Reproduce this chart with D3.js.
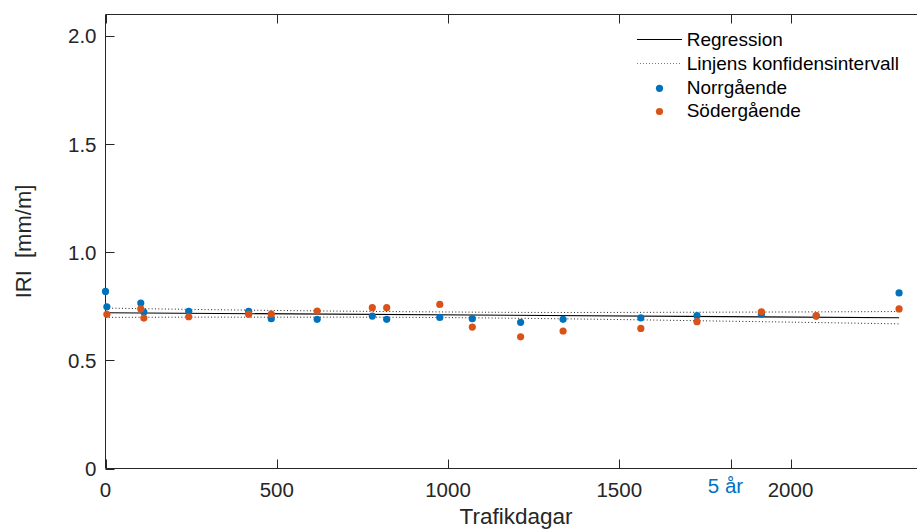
<!DOCTYPE html>
<html>
<head>
<meta charset="utf-8">
<script src="https://cdn.jsdelivr.net/npm/d3@7"></script>
<style>
  body { margin: 0; background: #fff; }
  svg { display: block; font-family: "Liberation Sans", Arial, Helvetica, sans-serif; }
</style>
</head>
<body>
<svg id="chart" width="917" height="529"></svg>
<script>
// IRI measurements per traffic day, northbound and southbound lanes
const northDays = [0, 4, 103, 112, 243, 418, 484, 618, 779, 821, 976, 1071, 1212, 1336, 1563, 1727, 1915, 2075, 2317];
const northIRI  = [0.819, 0.748, 0.765, 0.724, 0.727, 0.727, 0.693, 0.690, 0.705, 0.690, 0.699, 0.693, 0.676, 0.690, 0.697, 0.707, 0.714, 0.705, 0.812];

const southDays = [4, 103, 112, 243, 418, 484, 618, 779, 821, 976, 1071, 1212, 1336, 1563, 1727, 1915, 2075, 2317];
const southIRI  = [0.713, 0.738, 0.696, 0.702, 0.714, 0.714, 0.728, 0.744, 0.744, 0.759, 0.654, 0.609, 0.636, 0.648, 0.679, 0.725, 0.707, 0.738];

// Regression line end points
const regDays = [0, 2317];
const regIRI  = [0.7205, 0.6975];

// Confidence band of the regression line
const ciDays  = [0, 250, 500, 750, 1000, 1250, 1500, 1750, 2000, 2317];
const ciUpper = [0.742, 0.736, 0.731, 0.727, 0.724, 0.722, 0.722, 0.723, 0.724, 0.726];
const ciLower = [0.699, 0.700, 0.700, 0.700, 0.698, 0.694, 0.689, 0.683, 0.677, 0.669];

// Axis ticks
const xTicks = [0, 500, 1000, 1500, 2000];
const yTicks = [0, 0.5, 1.0, 1.5, 2.0];
const yTickLabels = ["0", "0.5", "1.0", "1.5", "2.0"];
const fiveYears = 5 * 365.25;
const fiveYearsLabel = "5 år";

const legendLabels = ["Regression", "Linjens konfidensintervall", "Norrgående", "Södergående"];

const blue = "#0072BD", orange = "#D95319", axisColor = "#262626";

const svg = d3.select("#chart");
const x = d3.scaleLinear().domain([0, 2400]).range([105.5, 927.5]);
const y = d3.scaleLinear().domain([0, 2.1]).range([468.5, 14.5]);

const tickLen = 9;
const frame = svg.append("g").attr("stroke", axisColor).attr("stroke-width", 1).attr("fill", "none");
// box: left, bottom, top
frame.append("line").attr("x1", x(0)).attr("x2", x(0)).attr("y1", y(0)).attr("y2", y(2.1));
frame.append("line").attr("x1", x(0)).attr("x2", x(2400)).attr("y1", y(0)).attr("y2", y(0));
frame.append("line").attr("x1", x(0)).attr("x2", x(2400)).attr("y1", y(2.1)).attr("y2", y(2.1));

// inward ticks on bottom and top
const allXTicks = xTicks.concat([fiveYears]);
allXTicks.forEach(t => {
  const px = Math.round(x(t)) + 0.5;
  frame.append("line").attr("x1", px).attr("x2", px).attr("y1", y(0)).attr("y2", y(0) - tickLen);
  frame.append("line").attr("x1", px).attr("x2", px).attr("y1", y(2.1)).attr("y2", y(2.1) + tickLen);
});
yTicks.forEach(t => {
  const py = Math.round(y(t)) + 0.5;
  frame.append("line").attr("x1", x(0)).attr("x2", x(0) + tickLen).attr("y1", py).attr("y2", py);
});

// tick labels
const tickFont = 20.5;
svg.append("g").selectAll("text").data(xTicks).join("text")
  .attr("x", d => x(d)).attr("y", 497.3)
  .attr("text-anchor", "middle").attr("font-size", tickFont).attr("fill", axisColor)
  .text(d => d3.format("d")(d));
svg.append("g").selectAll("text").data(yTicks).join("text")
  .attr("x", 96.5).attr("y", d => y(d) + 7.3)
  .attr("text-anchor", "end").attr("font-size", tickFont).attr("fill", axisColor)
  .text((d, i) => yTickLabels[i]);

svg.append("text")
  .attr("x", x(fiveYears) - 5.5).attr("y", 492.7)
  .attr("text-anchor", "middle").attr("font-size", tickFont).attr("fill", blue)
  .text(fiveYearsLabel);

// axis titles
svg.append("text")
  .attr("x", 516).attr("y", 523.5)
  .attr("text-anchor", "middle").attr("font-size", 22.5).attr("fill", axisColor)
  .text("Trafikdagar");
svg.append("text")
  .attr("transform", `translate(30.7, ${(y(0) + y(2.1)) / 2}) rotate(-90)`)
  .attr("text-anchor", "middle").attr("font-size", 22).attr("fill", axisColor)
  .attr("xml:space", "preserve").style("white-space", "pre")
  .text("IRI  [mm/m]");

// regression and confidence band
const line = d3.line().x(d => x(d[0])).y(d => y(d[1]));
const curve = d3.line().x(d => x(d[0])).y(d => y(d[1])).curve(d3.curveNatural);
svg.append("path")
  .attr("d", line(regDays.map((d, i) => [d, regIRI[i]])))
  .attr("stroke", "#000").attr("stroke-width", 1.1).attr("fill", "none");
[ciUpper, ciLower].forEach(arr => {
  svg.append("path")
    .attr("d", curve(ciDays.map((d, i) => [d, arr[i]])))
    .attr("stroke", "#222").attr("stroke-width", 1).attr("stroke-dasharray", "1,2.3")
    .attr("fill", "none");
});

// data points
const r = 3.6;
svg.append("g").selectAll("circle").data(northDays.map((d, i) => [d, northIRI[i]])).join("circle")
  .attr("cx", d => x(d[0])).attr("cy", d => y(d[1])).attr("r", r).attr("fill", blue);
svg.append("g").selectAll("circle").data(southDays.map((d, i) => [d, southIRI[i]])).join("circle")
  .attr("cx", d => x(d[0])).attr("cy", d => y(d[1])).attr("r", r).attr("fill", orange);

// legend
const lg = svg.append("g");
const baselines = [46, 69.8, 93.6, 117.4];
lg.append("line").attr("x1", 637).attr("x2", 682).attr("y1", 39.5).attr("y2", 39.5)
  .attr("stroke", "#000").attr("stroke-width", 1);
lg.append("line").attr("x1", 637).attr("x2", 682).attr("y1", 63.5).attr("y2", 63.5)
  .attr("stroke", "#777").attr("stroke-width", 1).attr("stroke-dasharray", "1,2");
lg.append("circle").attr("cx", 659.5).attr("cy", 88.3).attr("r", r).attr("fill", blue);
lg.append("circle").attr("cx", 659.5).attr("cy", 111.5).attr("r", r).attr("fill", orange);
lg.selectAll("text").data(legendLabels).join("text")
  .attr("x", 686.7).attr("y", (d, i) => baselines[i])
  .attr("font-size", 19).attr("fill", "#000")
  .text(d => d);
</script>
</body>
</html>
